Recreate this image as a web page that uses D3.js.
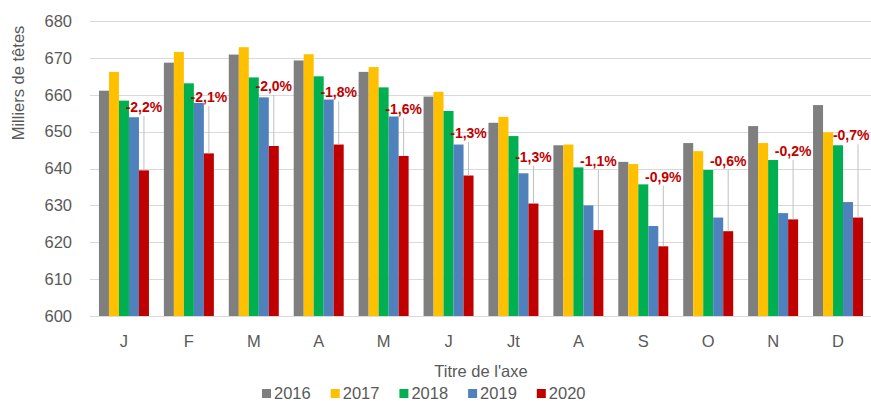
<!DOCTYPE html>
<html>
<head>
<meta charset="utf-8">
<script src="https://cdn.jsdelivr.net/npm/d3@7"></script>
<style>
  body { margin: 0; background: #fff; }
  svg text { font-family: "Liberation Sans", Arial, sans-serif; }
</style>
</head>
<body>
<div id="chart"></div>
<script>
'use strict'

// months and series (milliers de têtes)
const months = ["J", "F", "M", "A", "M", "J", "Jt", "A", "S", "O", "N", "D"];
const years = ["2016", "2017", "2018", "2019", "2020"];

const v2016 = [661.1, 668.7, 670.9, 669.3, 666.2, 659.5, 652.4, 646.3, 641.8, 646.9, 651.5, 657.2];
const v2017 = [666.2, 671.6, 672.9, 671.0, 667.5, 660.8, 654.0, 646.5, 641.2, 644.7, 646.9, 649.8];
const v2018 = [658.4, 663.1, 664.7, 665.0, 662.0, 655.6, 648.8, 640.3, 635.7, 639.6, 642.3, 646.3];
const v2019 = [653.9, 657.8, 659.3, 658.7, 654.1, 646.5, 638.7, 630.0, 624.4, 626.7, 627.9, 630.9];
const v2020 = [639.5, 644.1, 646.1, 646.5, 643.4, 638.1, 630.5, 623.3, 618.9, 623.0, 626.2, 626.7];

// change 2020 labels and the level (in thousands) where each label sits
const changeLabels = ["-2,2%", "-2,1%", "-2,0%", "-1,8%", "-1,6%", "-1,3%", "-1,3%", "-1,1%", "-0,9%", "-0,6%", "-0,2%", "-0,7%"];
const labelLevels = [656.7, 659.4, 662.4, 660.7, 656.2, 649.7, 643.2, 642.1, 637.8, 642.1, 644.8, 649.0];

const yTicks = [600, 610, 620, 630, 640, 650, 660, 670, 680];

const colors = ["#7f7f7f", "#ffc000", "#00b050", "#4f81bd", "#c00000"];

const series = [v2016, v2017, v2018, v2019, v2020];

const width = 871;
const height = 401;
const margin = { top: 21, right: 0.5, bottom: 85, left: 91.5 };

const svg = d3.select("#chart")
    .append("svg")
    .attr("width", width)
    .attr("height", height);

const x = d3.scaleBand()
    .domain(d3.range(months.length))
    .range([margin.left, width - margin.right])
    .paddingInner(0.23)
    .paddingOuter(0.115);

const xInner = d3.scaleBand()
    .domain(years)
    .range([0, x.bandwidth()]);

const y = d3.scaleLinear()
    .domain([600, 680])
    .range([height - margin.bottom, margin.top]);

// gridlines
svg.append("g")
    .selectAll("line")
    .data(yTicks)
    .enter().append("line")
    .attr("x1", 90)
    .attr("x2", width)
    .attr("y1", d => Math.round(y(d)) + 0.5)
    .attr("y2", d => Math.round(y(d)) + 0.5)
    .attr("stroke", "#d9d9d9")
    .attr("stroke-width", 1);

// y axis labels
const yAxis = svg.append("g")
    .attr("transform", "translate(72,0)")
    .call(d3.axisLeft(y).tickValues(yTicks).tickSize(0).tickPadding(0));
yAxis.select(".domain").remove();
yAxis.selectAll("text")
    .attr("fill", "#595959")
    .style("font-size", "16.5px");

// bars
const groups = svg.append("g")
    .selectAll("g")
    .data(months.map((m, i) => i))
    .enter().append("g")
    .attr("transform", i => `translate(${x(i)},0)`);

groups.selectAll("rect")
    .data(i => series.map((s, k) => ({ year: years[k], value: s[i], k })))
    .enter().append("rect")
    .attr("x", d => xInner(d.year))
    .attr("width", xInner.bandwidth())
    .attr("y", d => y(d.value))
    .attr("height", d => y(600) - y(d.value))
    .attr("fill", d => colors[d.k]);

// leader lines and labels
const redX = i => x(i) + xInner("2020") + xInner.bandwidth() / 2;

svg.append("g")
    .selectAll("line")
    .data(months.map((m, i) => i))
    .enter().append("line")
    .attr("x1", i => redX(i))
    .attr("x2", i => redX(i))
    .attr("y1", i => y(labelLevels[i]) + 9)
    .attr("y2", i => y(v2020[i]))
    .attr("stroke", "#bfbfbf")
    .attr("stroke-width", 1);

svg.append("g")
    .selectAll("text")
    .data(months.map((m, i) => i))
    .enter().append("text")
    .attr("x", i => redX(i))
    .attr("y", i => y(labelLevels[i]))
    .attr("dy", "0.35em")
    .attr("text-anchor", "middle")
    .attr("fill", "#c00000")
    .style("font-size", "14px")
    .style("font-weight", "bold")
    .text(i => changeLabels[i])
    .each(function () {
        // keep the last label inside the picture
        const b = this.getBBox();
        if (b.x + b.width > width - 1) {
            d3.select(this).attr("dx", width - 1 - (b.x + b.width));
        }
    });

// x axis
const xAxis = svg.append("g")
    .attr("transform", `translate(0,${y(600)})`)
    .call(d3.axisBottom(x).tickFormat(i => months[i]).tickSize(0).tickPadding(19));
xAxis.select(".domain")
    .attr("stroke", "#d9d9d9");
xAxis.selectAll("text")
    .attr("fill", "#595959")
    .style("font-size", "16.5px");

// axis titles
svg.append("text")
    .attr("x", (margin.left + width - margin.right) / 2)
    .attr("y", 377)
    .attr("text-anchor", "middle")
    .attr("fill", "#595959")
    .style("font-size", "16.5px")
    .text("Titre de l'axe");

svg.append("text")
    .attr("transform", "translate(24,83) rotate(-90)")
    .attr("text-anchor", "middle")
    .attr("fill", "#595959")
    .style("font-size", "16.5px")
    .text("Milliers de têtes");

// legend
const legend = svg.append("g")
    .selectAll("g")
    .data(years)
    .enter().append("g")
    .attr("transform", (d, i) => `translate(${262 + i * 68.7},0)`);

legend.append("rect")
    .attr("y", 389)
    .attr("width", 9)
    .attr("height", 9)
    .attr("fill", (d, i) => colors[i]);

legend.append("text")
    .attr("x", 12)
    .attr("y", 399)
    .attr("fill", "#595959")
    .style("font-size", "16.5px")
    .text(d => d);
</script>
</body>
</html>
